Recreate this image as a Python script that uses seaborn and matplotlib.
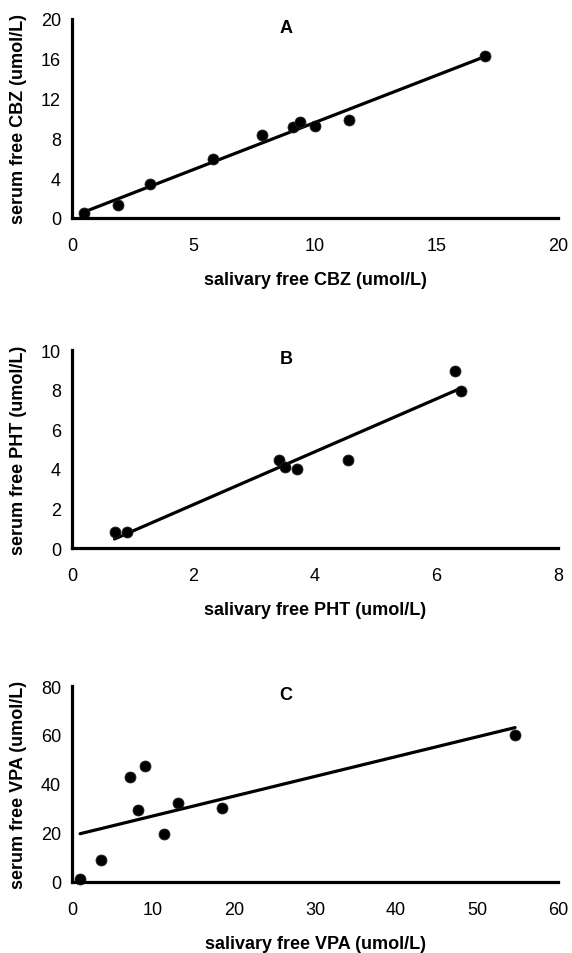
import matplotlib
matplotlib.use("Agg")
import matplotlib.pyplot as plt
import seaborn as sns
import pandas as pd

# ---- data ----
cbz_saliva = [0.5, 1.9, 3.2, 5.8, 7.8, 9.1, 9.4, 10.0, 11.4, 17.0]
cbz_serum = [0.5, 1.3, 3.4, 5.9, 8.3, 9.1, 9.6, 9.2, 9.8, 16.3]

pht_saliva = [0.7, 0.9, 3.4, 3.5, 3.7, 4.55, 6.3, 6.4]
pht_serum = [0.8, 0.8, 4.45, 4.1, 4.0, 4.45, 8.95, 7.95]

vpa_saliva = [1.0, 3.6, 7.2, 9.0, 8.2, 11.3, 13.1, 18.5, 54.7]
vpa_serum = [1.1, 9.0, 42.8, 47.5, 29.4, 19.7, 32.4, 30.4, 59.9]

panel_titles = ["A", "B", "C"]
x_labels = ["salivary free CBZ (umol/L)", "salivary free PHT (umol/L)", "salivary free VPA (umol/L)"]
y_labels = ["serum free CBZ (umol/L)", "serum free PHT (umol/L)", "serum free VPA (umol/L)"]
x_ticks = [[0, 5, 10, 15, 20], [0, 2, 4, 6, 8], [0, 10, 20, 30, 40, 50, 60]]
y_ticks = [[0, 4, 8, 12, 16, 20], [0, 2, 4, 6, 8, 10], [0, 20, 40, 60, 80]]

sns.set_style("white")
plt.rcParams["font.family"] = ["Liberation Sans", "DejaVu Sans"]
plt.rcParams["text.color"] = "black"
plt.rcParams["axes.labelcolor"] = "black"

W, H = 572, 954
fig = plt.figure(figsize=(W / 100, H / 100), dpi=100)

# axes boxes in pixels: (left, top, right, bottom)
boxes = [(72, 20, 558, 219), (72, 351, 558, 549), (72, 687, 558, 883)]

datasets = [(cbz_saliva, cbz_serum), (pht_saliva, pht_serum), (vpa_saliva, vpa_serum)]

FS = 13
for i, (box, (xs, ys)) in enumerate(zip(boxes, datasets)):
    l, t, r, b = box
    ax = fig.add_axes([l / W, (H - b) / H, (r - l) / W, (b - t) / H])
    df = pd.DataFrame({"x": xs, "y": ys})
    sns.regplot(data=df, x="x", y="y", ax=ax, ci=None, truncate=True,
                scatter_kws=dict(s=62, color="black", edgecolor="#222222", linewidths=0.6,
                                 alpha=1, zorder=3),
                line_kws=dict(color="black", linewidth=2.3, zorder=2))
    ax.set_xlim(x_ticks[i][0], x_ticks[i][-1])
    ax.set_ylim(y_ticks[i][0], y_ticks[i][-1])
    ax.set_xticks(x_ticks[i])
    ax.set_yticks(y_ticks[i])
    ax.tick_params(axis="x", length=0, pad=13.5, labelsize=FS, colors="black")
    ax.tick_params(axis="y", length=0, pad=8, labelsize=FS, colors="black")
    for side in ["top", "right"]:
        ax.spines[side].set_visible(False)
    for side in ["left", "bottom"]:
        ax.spines[side].set_linewidth(2.3)
        ax.spines[side].set_color("black")
    ax.set_xlabel(x_labels[i], fontsize=FS, fontweight="bold", labelpad=12.5)
    ax.set_ylabel(y_labels[i], fontsize=FS, fontweight="bold")
    ax.yaxis.set_label_coords(-0.092, 0.5)
    ax.text(0.44, 0.955, panel_titles[i], transform=ax.transAxes, ha="center", va="center",
            fontsize=FS, fontweight="bold")
    ax.set_facecolor("white")
    for sp in ax.spines.values():
        sp.set_zorder(4)
    for coll in ax.collections:
        coll.set_clip_on(False)

fig.savefig("out.png", dpi=100, facecolor="white")
